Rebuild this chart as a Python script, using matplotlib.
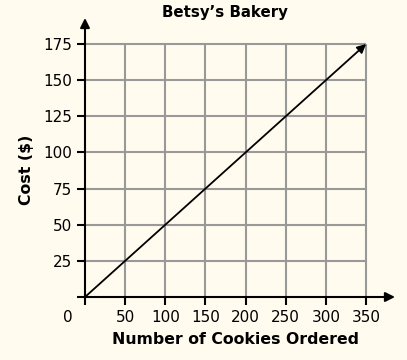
import matplotlib.pyplot as plt

# data
cookies = [0, 350]
cost = [0, 175]
x_ticks = [50, 100, 150, 200, 250, 300, 350]
y_ticks = [25, 50, 75, 100, 125, 150, 175]

bg = '#fffbee'
grid_col = '#999999'

fig = plt.figure(figsize=(4.07, 3.6), dpi=100, facecolor=bg)
ax = fig.add_axes([85 / 407, 63 / 360, 310 / 407, 279 / 360])
ax.set_facecolor(bg)
ax.patch.set_alpha(0)
ax.set_xlim(0, 386)
ax.set_ylim(0, 193)
for s in ax.spines.values():
    s.set_visible(False)

# grid only inside the data range
ax.vlines(x_ticks, 0, max(y_ticks), color=grid_col, lw=1.5, zorder=1)
ax.hlines(y_ticks, 0, max(x_ticks), color=grid_col, lw=1.5, zorder=1)

# axes with arrow heads
ax.annotate('', xy=(386, 0), xytext=(0, 0),
            arrowprops=dict(arrowstyle='-|>', color='black', lw=1.5, mutation_scale=14,
                            shrinkA=0, shrinkB=0), annotation_clip=False)
ax.annotate('', xy=(0, 193), xytext=(0, 0),
            arrowprops=dict(arrowstyle='-|>', color='black', lw=1.5, mutation_scale=14,
                            shrinkA=0, shrinkB=0), annotation_clip=False)

# the cost line
ax.annotate('', xy=(cookies[1], cost[1]), xytext=(cookies[0], cost[0]),
            arrowprops=dict(arrowstyle='-|>', color='black', lw=1.3, mutation_scale=13,
                            shrinkA=0, shrinkB=0), zorder=3)

ax.set_xticks([0] + x_ticks)
ax.set_xticklabels([''] + [str(v) for v in x_ticks])
ax.set_yticks([0] + y_ticks)
ax.set_yticklabels([''] + [str(v) for v in y_ticks])
ax.tick_params(length=6, width=1.5, color='black', labelsize=11, pad=3)
ax.text(-22, -14, '0', ha='center', va='center', fontsize=11)

fig.text(225 / 407, 1 - 13 / 360, 'Betsy’s Bakery', ha='center', va='center',
         fontsize=10.8, fontweight='bold')
ax.set_xlabel('Number of Cookies Ordered', fontsize=11.3, fontweight='bold')
ax.xaxis.set_label_coords(150 / 310, -0.125)
ax.set_ylabel('Cost ($)', fontsize=11.3, fontweight='bold')
ax.yaxis.set_label_coords(-51 / 310, 127 / 279)

fig.savefig('out.png', dpi=100, facecolor=bg)
